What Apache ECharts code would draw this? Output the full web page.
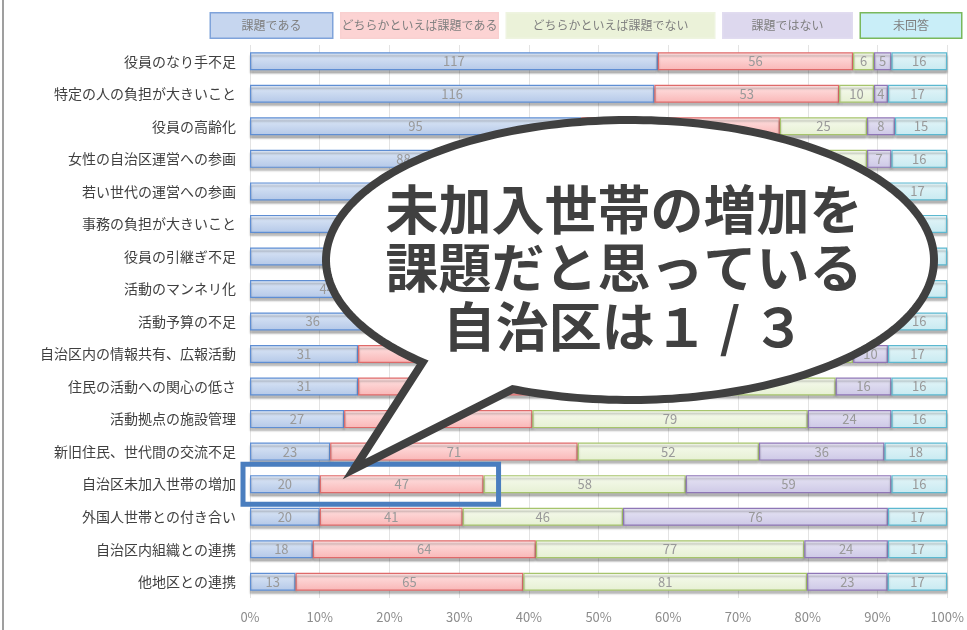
<!DOCTYPE html>
<html>
<head>
<meta charset="utf-8">
<script src="https://cdn.jsdelivr.net/npm/echarts@6/dist/echarts.min.js"></script>
<style>
  html, body { margin: 0; padding: 0; background: #ffffff; }
  #chart { width: 967px; height: 630px; }
</style>
</head>
<body>
<div id="chart"></div>
<script>
// 自治区の課題（回答数、行ごとに100%で積み上げ）
const categories = [
  '役員のなり手不足', '特定の人の負担が大きいこと', '役員の高齢化', '女性の自治区運営への参画',
  '若い世代の運営への参画', '事務の負担が大きいこと', '役員の引継ぎ不足', '活動のマンネリ化',
  '活動予算の不足', '自治区内の情報共有、広報活動', '住民の活動への関心の低さ', '活動拠点の施設管理',
  '新旧住民、世代間の交流不足', '自治区未加入世帯の増加', '外国人世帯との付き合い', '自治区内組織との連携',
  '他地区との連携'
];
const seriesNames = ['課題である', 'どちらかといえば課題である', 'どちらかといえば課題でない', '課題ではない', '未回答'];
const kadai     = [117, 116, 95, 88, 80, 66, 60, 44, 36, 31, 31, 27, 23, 20, 20, 18, 13];
const yayaKadai = [56, 53, 57, 64, 66, 72, 76, 70, 70, 72, 64, 54, 71, 47, 41, 64, 65];
const yayaNot   = [6, 10, 25, 25, 28, 35, 38, 56, 60, 70, 73, 79, 52, 58, 46, 77, 81];
const notKadai  = [5, 4, 8, 7, 9, 10, 11, 15, 18, 10, 16, 24, 36, 59, 76, 24, 23];
const noAnswer  = [16, 17, 15, 16, 17, 17, 15, 15, 16, 17, 16, 16, 18, 16, 17, 17, 17];
const xTicks = [0, 10, 20, 30, 40, 50, 60, 70, 80, 90, 100];

const FONT = '"Noto Sans CJK JP", "Noto Sans", sans-serif';
const groups = [kadai, yayaKadai, yayaNot, notKadai, noAnswer];
const totals = categories.map((_, i) => groups.reduce((s, g) => s + g[i], 0));

// 塗り（上→下のグラデーション）と枠線
const styles = [
  { top: '#dfe9f7', bottom: '#b4c8e8', border: '#5f8ed3', legendBg: '#c6d6ef', legendBorder: '#7fa3da' },
  { top: '#ffe4e4', bottom: '#f9b6b6', border: '#de6a6a', legendBg: '#fcd3d3', legendBorder: '#f9d0d0' },
  { top: '#f7fbef', bottom: '#e6f0d3', border: '#a6c46c', legendBg: '#ebf2d9', legendBorder: '#eef4e0' },
  { top: '#e8e6f5', bottom: '#cdc8e6', border: '#8e76b6', legendBg: '#ddd8ee', legendBorder: '#e1dcf0' },
  { top: '#e6f6f9', bottom: '#c8eaf1', border: '#5cb8d0', legendBg: '#c9eef8', legendBorder: '#79b85c' }
];
const legendWidths = [121, 156, 207, 128, 100];

const series = groups.map((arr, k) => ({
  name: seriesNames[k],
  type: 'bar',
  stack: 'all',
  barWidth: 18,
  data: arr.map((v, i) => v / totals[i] * 100),
  itemStyle: {
    color: new echarts.graphic.LinearGradient(0, 0, 0, 1, [
      { offset: 0, color: styles[k].top },
      { offset: 1, color: styles[k].bottom }
    ]),
    borderColor: styles[k].border,
    borderWidth: 1.2,
    shadowColor: 'rgba(0,0,0,0.28)',
    shadowBlur: 2,
    shadowOffsetY: 3
  },
  label: {
    show: true,
    position: 'inside',
    color: '#999999',
    fontSize: 13,
    fontFamily: FONT,
    formatter: p => String(arr[p.dataIndex])
  },
  emphasis: { disabled: true }
}));

// 凡例の枠付きラベル
const legendRich = {};
seriesNames.forEach((n, k) => {
  legendRich['s' + k] = {
    color: '#7f7f7f',
    fontSize: 12,
    fontFamily: FONT,
    backgroundColor: styles[k].legendBg,
    borderColor: styles[k].legendBorder,
    borderWidth: 1.5,
    width: legendWidths[k],
    height: 24,
    lineHeight: 24,
    align: 'center'
  };
});

// 吹き出しの輪郭（楕円の弧＋しっぽ）
const bubble = { cx: 630, cy: 260, rx: 304, ry: 140, fromDeg: 133, toDeg: 472.7, tip: [354, 469] };
const bubblePoints = [];
for (let a = bubble.fromDeg; a <= bubble.toDeg + 0.001; a += 1.5) {
  const r = a * Math.PI / 180;
  bubblePoints.push([bubble.cx + bubble.rx * Math.cos(r), bubble.cy + bubble.ry * Math.sin(r)]);
}
const rEnd = bubble.toDeg * Math.PI / 180;
bubblePoints.push([bubble.cx + bubble.rx * Math.cos(rEnd), bubble.cy + bubble.ry * Math.sin(rEnd)]);
bubblePoints.push(bubble.tip);

const chart = echarts.init(document.getElementById('chart'));
chart.setOption({
  animation: false,
  backgroundColor: '#ffffff',
  textStyle: { fontFamily: FONT },
  legend: {
    top: 7,
    left: 200,
    width: 800,
    itemGap: 2,
    itemWidth: 0,
    itemHeight: 0,
    selectedMode: false,
    data: seriesNames,
    formatter: name => '{s' + seriesNames.indexOf(name) + '|' + name + '}',
    textStyle: { rich: legendRich }
  },
  grid: { left: 250, right: 12, top: 45, bottom: 32 },
  xAxis: {
    type: 'value',
    min: xTicks[0],
    max: xTicks[xTicks.length - 1],
    interval: 10,
    axisLine: { show: false },
    axisTick: { show: false },
    axisLabel: { color: '#8c8c8c', fontSize: 13, fontFamily: FONT, margin: 13, formatter: '{value}%' },
    splitLine: { show: true, lineStyle: { color: '#e3e3e3', width: 1 } }
  },
  yAxis: {
    type: 'category',
    inverse: true,
    data: categories,
    axisLine: { show: false },
    axisTick: { show: false },
    axisLabel: { color: '#404040', fontSize: 14, fontFamily: FONT, margin: 14 }
  },
  series: series
});

// 注目行の枠と吹き出し
const row = '自治区未加入世帯の増加';
const rowIdx = categories.indexOf(row);
const endPct = (kadai[rowIdx] + yayaKadai[rowIdx]) / totals[rowIdx] * 100;
const pLeft = chart.convertToPixel({ gridIndex: 0 }, [0, row]);
const pRight = chart.convertToPixel({ gridIndex: 0 }, [endPct, row]);

const calloutLines = ['未加入世帯の増加を', '課題だと思っている', '自治区は１ / ３'];
const calloutY = [210, 268, 327];

chart.setOption({
  graphic: [
    {
      type: 'line',
      shape: { x1: 3, y1: 0, x2: 3, y2: 630 },
      style: { stroke: '#7f7f7f', lineWidth: 1.5 },
      z: 50
    },
    {
      type: 'rect',
      shape: { x: pLeft[0] - 7, y: pLeft[1] - 20, width: pRight[0] - pLeft[0] + 22, height: 40 },
      style: { fill: 'none', stroke: '#4a7ebf', lineWidth: 5 },
      z: 60
    },
    {
      type: 'polygon',
      shape: { points: bubblePoints },
      style: { fill: '#ffffff', stroke: '#404040', lineWidth: 8, lineJoin: 'miter' },
      z: 70
    }
  ].concat(calloutLines.map((t, i) => ({
    type: 'text',
    x: 624,
    y: calloutY[i],
    z: 80,
    style: {
      text: t,
      fill: '#404040',
      fontSize: 53,
      fontWeight: 'bold',
      fontFamily: FONT,
      align: 'center',
      verticalAlign: 'middle'
    }
  })))
});
</script>
</body>
</html>
